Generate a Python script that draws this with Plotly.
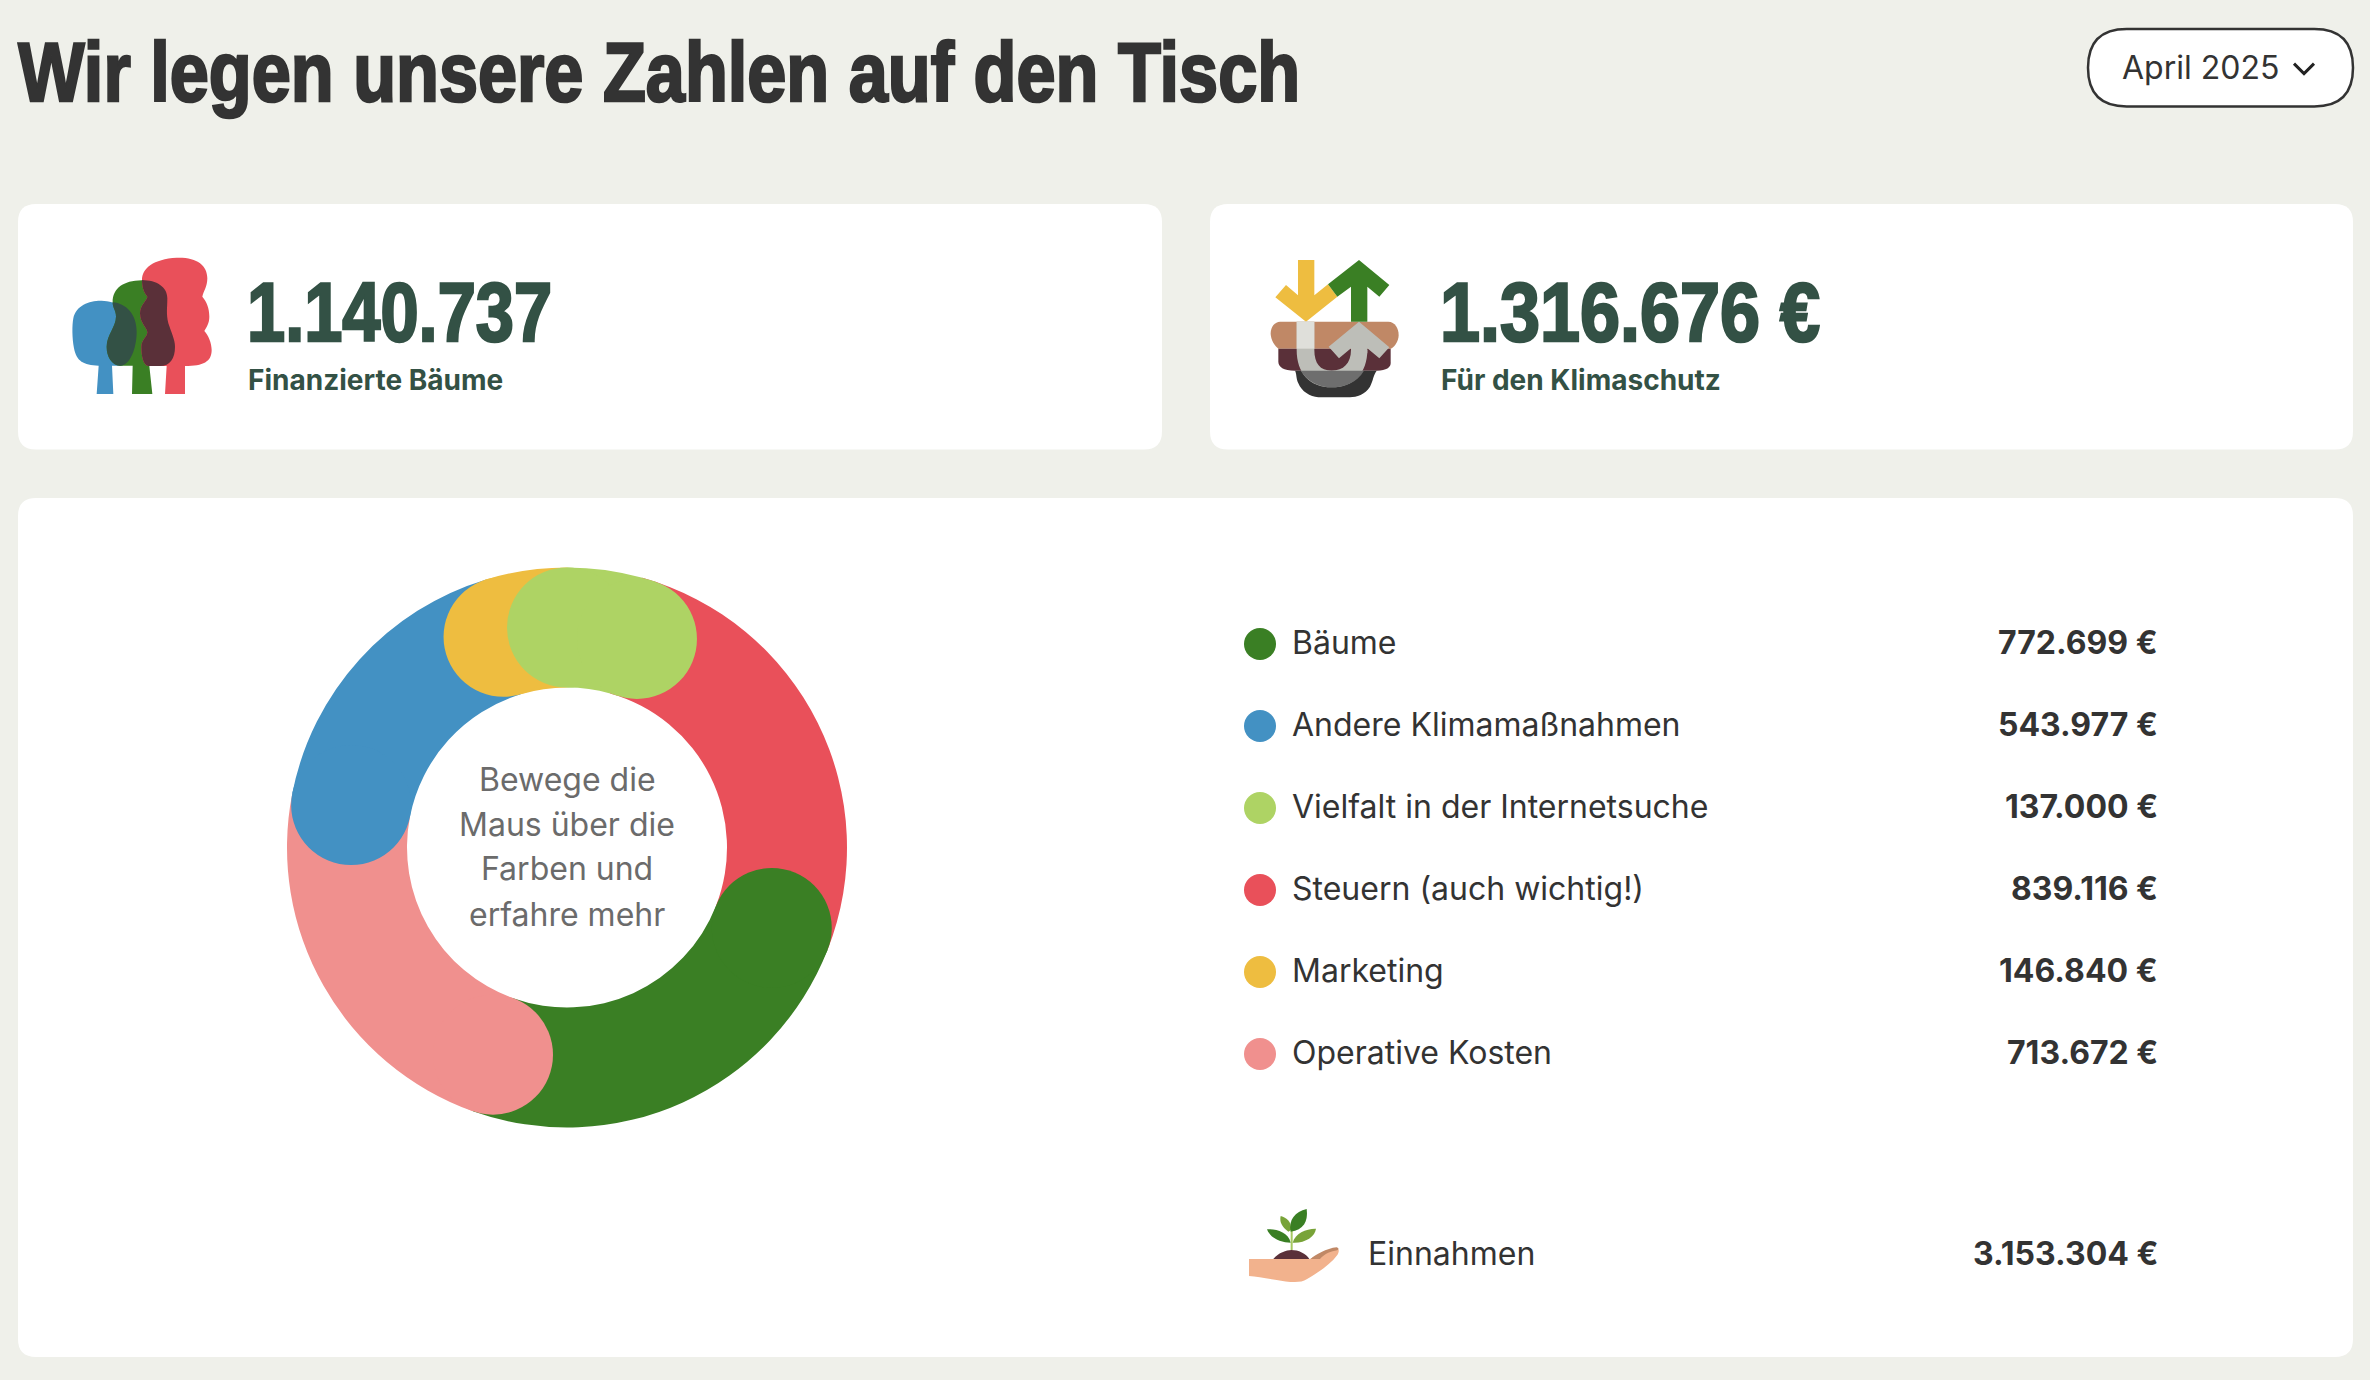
import re
import math
import json
import plotly.graph_objects as go

# ---------- data ----------
categories = ["Bäume", "Andere Klimamaßnahmen", "Vielfalt in der Internetsuche",
              "Steuern (auch wichtig!)", "Marketing", "Operative Kosten"]
values = [772699, 543977, 137000, 839116, 146840, 713672]
colors = ["#3A7F24", "#4391C3", "#AED364", "#E9505A", "#EEBD40", "#F0908E"]
ring_order = [2, 3, 0, 5, 1, 4]          # clockwise from 12 o'clock
trees_financed = 1140737
climate_indices = [0, 1]
title_text = "Wir legen unsere Zahlen auf den Tisch"
month_label = "April 2025"
tree_label = "Finanzierte Bäume"
climate_label = "Für den Klimaschutz"
income_label = "Einnahmen"
center_lines = ["Bewege die", "Maus über die", "Farben und", "erfahre mehr"]

# ---------- style ----------
W, H = 2370, 1380
BG = "#EFF0EA"
INK = "#333333"
DEEP = "#335145"
GREY = "#6B6B6B"
BODY = "Inter"
HEAD = "Liberation Sans"
CX, CY, R_OUT, R_IN = 567, 847.5, 280, 160
LIME_OVERRUN_DEG = 2.9


def px(x):
    return x / W


def py(y):
    return 1 - y / H


def euro(v):
    return f"{v:,}".replace(",", ".") + " €"


def num(v):
    return f"{v:,}".replace(",", ".")


def icon(d, ox, oy, s=1 / 3):
    def rep(m):
        return f"{px(ox + float(m.group(1)) * s):.6f},{py(oy + float(m.group(2)) * s):.6f}"
    return re.sub(r"(-?\d+\.?\d*),(-?\d+\.?\d*)", rep, d)


def rrect(x0, y0, x1, y1, r):
    return icon(
        f"M{x0+r},{y0} L{x1-r},{y0} Q{x1},{y0} {x1},{y0+r} L{x1},{y1-r} Q{x1},{y1} {x1-r},{y1} "
        f"L{x0+r},{y1} Q{x0},{y1} {x0},{y1-r} L{x0},{y0+r} Q{x0},{y0} {x0+r},{y0} Z", 0, 0, 1)


shapes = []


def fill_path(path, color, layer="above"):
    shapes.append(dict(type="path", path=path, fillcolor=color, line=dict(width=0),
                       xref="paper", yref="paper", layer=layer))


def dot(cx, cy, r, color, layer="above"):
    shapes.append(dict(type="circle", x0=px(cx - r), x1=px(cx + r), y0=py(cy + r), y1=py(cy - r),
                       fillcolor=color, line=dict(width=0), xref="paper", yref="paper", layer=layer))


annotations = []


def text(x, y, s, size, color, family=BODY, weight=400, anchor="left"):
    annotations.append(dict(x=px(x), y=py(y), xref="paper", yref="paper", text=s, showarrow=False,
                            xanchor=anchor, yanchor="middle", borderpad=0,
                            font=dict(family=family, size=size, color=color, weight=weight)))


# ---------- page furniture ----------
fill_path(rrect(18, 204, 1162, 449.5, 18), "#FFFFFF", "below")
fill_path(rrect(1210, 204, 2353, 449.5, 18), "#FFFFFF", "below")
fill_path(rrect(18, 498, 2353, 1357, 18), "#FFFFFF", "below")

text(17, 72, title_text, 84, INK, HEAD, 700)

shapes.append(dict(type="path", path=rrect(2088, 29, 2353, 106.5, 38.7), fillcolor="#FFFFFF",
                   line=dict(color=INK, width=2.5), xref="paper", yref="paper", layer="below"))
text(2120.5, 67, month_label, 32, INK)
shapes.append(dict(type="path", path=icon("M672,146 L702,176 L732,146", 2070, 15),
                   fillcolor="rgba(0,0,0,0)", line=dict(color="#222222", width=3),
                   xref="paper", yref="paper", layer="above"))

# ---------- KPI cards ----------
climate_total = euro(sum(values[i] for i in climate_indices))
text(246, 312, num(trees_financed), 84, DEEP, HEAD, 700)
text(246.5, 379.5, tree_label, 28, DEEP, BODY, 700)
text(1439, 312, climate_total, 84, DEEP, HEAD, 700)
text(1439.5, 379.5, climate_label, 28, DEEP, BODY, 700)

# tree icon
T = (60, 245)
BLUE, GREEN, RED, GOLD = colors[1], colors[0], colors[3], colors[4]
fill_path(icon("M110,447 L116,362 C70,360 50,350 42,310 C36,280 36,240 40,220 C48,180 90,166 125,167 "
               "C165,168 225,190 230,260 C232,310 210,362 180,362 L156,362 L160,447 Z", *T), BLUE)
fill_path(icon("M158,172 C158,130 190,107 245,106 C290,106 322,125 322,160 C322,190 318,205 325,235 "
               "C335,265 345,285 345,305 C345,340 330,363 300,363 L268,363 L277,447 L216,447 L218,362 "
               "L180,362 C155,360 140,335 140,305 C140,270 168,245 168,215 C168,195 158,190 158,172 Z", *T), GREEN)
fill_path(icon("M158,172 C200,175 230,210 230,260 C230,310 210,362 180,362 C155,360 140,335 140,305 "
               "C140,270 168,245 168,215 C168,195 158,190 158,172 Z", *T), DEEP)
fill_path(icon("M246,105 C246,70 280,42 350,38 C410,36 442,60 442,100 C442,125 430,140 427,155 "
               "C440,170 448,190 448,215 C448,235 440,245 433,258 C445,270 455,295 455,315 "
               "C455,350 430,363 375,363 L375,447 L315,447 L320,363 L265,363 C250,360 244,335 244,305 "
               "C244,285 262,275 262,262 C262,250 240,235 240,205 C240,180 262,165 262,155 "
               "C250,140 246,125 246,105 Z", *T), RED)
fill_path(icon("M246,105 C290,106 322,125 322,160 C322,190 318,205 325,235 C335,265 345,285 345,305 "
               "C345,340 330,363 300,363 L265,363 C250,360 244,335 244,305 C244,285 262,275 262,262 "
               "C262,250 240,235 240,205 C240,180 262,165 262,155 C250,140 246,125 246,105 Z", *T), "#5A3039")

# pot icon
P = (1260, 250)
CLAY, MAROON = "#C08866", "#5A3039"
fill_path(icon("M60,215 L385,215 C405,215 416,235 416,255 C416,275 400,295 392,296 L55,296 "
               "C45,290 32,270 32,250 C32,230 45,215 60,215 Z", *P), CLAY)
fill_path(icon("M55,296 L392,296 L392,340 C392,352 380,362 350,362 L105,362 C70,362 55,350 55,335 Z", *P), MAROON)
fill_path(icon("M105,362 L350,362 C340,375 340,390 330,410 C315,435 290,440 270,442 L175,442 "
               "C150,440 125,425 115,400 C108,385 110,370 105,362 Z", *P), INK)
fill_path(icon("M114,30 L163,30 L163,136 L204,103 L232,140 L138,215 L46,142 L78,105 L114,136 Z", *P), GOLD)
fill_path(icon("M297,30 L388,105 L358,140 L322,110 L322,215 L273,215 L273,110 L232,140 L204,103 Z", *P), GREEN)
fill_path(icon("M110,215 L163,215 L163,300 C163,340 180,362 215,362 C250,362 273,340 273,300 L322,300 "
               "C322,370 280,412 215,412 C150,412 110,370 110,300 Z", *P), "#BDBEB8")
fill_path(icon("M297,215 L388,292 L358,325 L322,295 L322,310 L273,310 L273,295 L237,325 L206,290 Z", *P), "#BDBEB8")
fill_path(icon("M110,215 L163,215 L163,296 L110,296 Z", *P), "#DFDFDA")
fill_path(icon("M122,362 C145,398 180,412 215,412 C255,412 290,398 312,362 Z", *P), "#6E6E6E")

# ---------- doughnut ----------
ring_values = [values[i] for i in ring_order]
ring_colors = [colors[i] for i in ring_order]
ring_labels = [categories[i] for i in ring_order]
total = sum(values)
R_MID = (R_OUT + R_IN) / 2
CAP = (R_OUT - R_IN) / 2


def on_ring(deg):
    a = math.radians(deg)
    return CX + R_MID * math.sin(a), CY - R_MID * math.cos(a)


starts, acc = [], 0.0
for v in ring_values:
    starts.append(acc / total * 360)
    acc += v

# rounded heads of the segments, later ones lying on the earlier ones
for k in range(2, len(ring_values)):
    dot(*on_ring(starts[k]), CAP, ring_colors[k])
dot(*on_ring(starts[0]), CAP, ring_colors[0])
lime_end = starts[1] + LIME_OVERRUN_DEG
steps = [starts[1] + (lime_end - starts[1]) * j / 6 for j in range(7)]
outer = [(CX + R_OUT * math.sin(math.radians(d)), CY - R_OUT * math.cos(math.radians(d))) for d in steps]
inner = [(CX + R_IN * math.sin(math.radians(d)), CY - R_IN * math.cos(math.radians(d))) for d in reversed(steps)]
pts = outer + inner
fill_path("M" + " L".join(f"{px(a):.6f},{py(b):.6f}" for a, b in pts) + " Z", ring_colors[0])
dot(*on_ring(lime_end), CAP, ring_colors[0])

pie = go.Pie(labels=ring_labels, values=ring_values, sort=False, direction="clockwise", rotation=0,
             hole=R_IN / R_OUT, textinfo="none", showlegend=False,
             marker=dict(colors=ring_colors, line=dict(width=0)),
             domain=dict(x=[px(CX - R_OUT), px(CX + R_OUT)], y=[py(CY + R_OUT), py(CY - R_OUT)]))

for i, line in enumerate(center_lines):
    text(CX, 779 + 45 * i, line, 32, GREY, anchor="center")

# ---------- legend table ----------
for i, (name, v, c) in enumerate(zip(categories, values, colors)):
    y = 644 + 82 * i
    dot(1260, y, 16, c)
    text(1291, y - 1.5, name, 32, INK)
    text(2159, y - 1.5, euro(v), 32, INK, BODY, 700, "right")

# hand icon
Q = (1220, 1180)
fill_path(icon("M87,237 L270,237 C290,225 320,215 350,205 C358,205 358,215 352,225 C330,255 290,280 260,298 "
               "C240,312 200,305 170,300 C140,295 110,290 87,288 Z", *Q), "#F2B28D")
fill_path(icon("M272,237 C285,225 320,205 350,202 C360,205 355,212 345,212 C325,215 310,225 300,237 Z", *Q), CLAY)
fill_path(icon("M160,237 C175,218 200,210 214,210 C235,210 258,220 268,237 Z", *Q), MAROON)
fill_path(icon("M212,210 L212,150 L218,150 L218,210 Z", *Q), "#A6C860")
fill_path(icon("M205,155 C185,140 178,125 182,108 C200,113 215,125 213,150 Z", *Q), "#78A338")
fill_path(icon("M212,155 C205,120 225,95 260,87 C265,125 250,150 212,155 Z", *Q), GREEN)
fill_path(icon("M212,188 C185,188 150,175 141,148 C165,146 205,155 212,188 Z", *Q), GREEN)
fill_path(icon("M218,188 C225,160 260,145 288,146 C285,170 255,190 218,188 Z", *Q), "#78A338")
text(1366.5, 1253.5, income_label, 32, INK)
text(2159, 1253.5, euro(total), 32, INK, BODY, 700, "right")

fig = go.Figure(pie)
fig.update_layout(width=W, height=H, margin=dict(l=0, r=0, t=0, b=0, pad=0),
                  paper_bgcolor=BG, plot_bgcolor=BG, shapes=shapes, annotations=annotations,
                  font=dict(family=BODY, color=INK))

# the display face of the page is a heavy condensed grotesque: squeeze the installed bold sans to the same widths
head_widths = {title_text: 1282, num(trees_financed): 305, climate_total: 380}
post = """
document.body.style.margin='0';document.body.style.background='%s';
document.documentElement.style.overflow='hidden';
var widths=%s;
function squeeze(){
  document.querySelectorAll('.annotation-text').forEach(function(el){
    var w=widths[el.textContent];
    if(!w){return;}
    var b=el.getBBox();
    el.style.transformBox='fill-box';
    el.style.transformOrigin='left center';
    el.style.transform='scaleX('+(w/b.width)+')';
    el.style.stroke=el.style.fill;
    el.style.strokeWidth='2.6px';
    el.style.paintOrder='stroke';
  });
}
var gd=document.getElementById('{plot_id}');
gd.on('plotly_afterplot',squeeze);
squeeze();setTimeout(squeeze,100);
""" % (BG, json.dumps(head_widths, ensure_ascii=False))
fig.write_html("out.html", config=dict(displayModeBar=False), post_script=post)
